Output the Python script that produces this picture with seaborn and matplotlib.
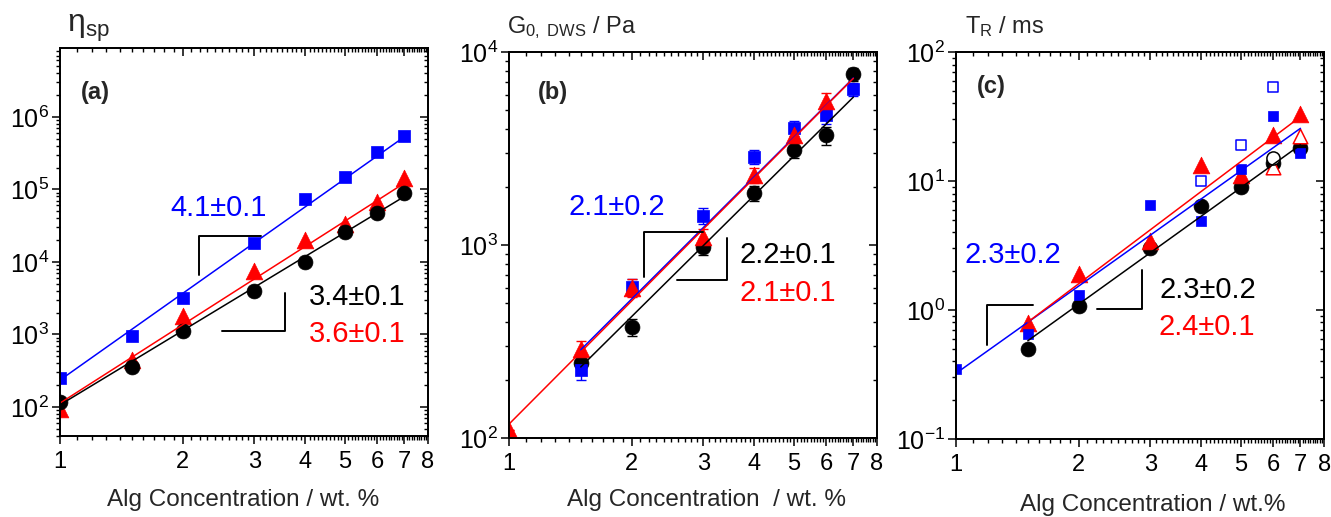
import numpy as np
import matplotlib
matplotlib.use("Agg")
import matplotlib.pyplot as plt
import seaborn as sns
from matplotlib.ticker import FixedLocator, FixedFormatter, NullFormatter, LogLocator

# ---------------- data ----------------
# (a) specific viscosity
conc_a = [1, 1.5, 2, 3, 4, 5, 6, 7]
eta_blue = [250, 940, 3150, 1.8e4, 7.3e4, 1.5e5, 3.3e5, 5.5e5]
eta_red = [95, 445, 1.8e3, 7.4e3, 2.0e4, 3.3e4, 6.6e4, 1.45e5]
eta_black = [118, 360, 1.13e3, 4.0e3, 1.0e4, 2.6e4, 4.8e4, 8.8e4]
fit_a_exp = [3.97, 3.59, 3.40]          # blue, red, black
fit_a_pref = [235, 113, 107]
fit_a_range = [[1, 7], [1, 7], [1, 7]]
slope_a = ["4.1\u00b10.1", "3.6\u00b10.1", "3.4\u00b10.1"]

# (b) plateau modulus from DWS
conc_b = [1.5, 2, 3, 4, 5, 6, 7]
G_black = [245, 376, 980, 1860, 3100, 3700, 7700]
G_black_err = [25, 40, 90, 170, 260, 400, 600]
G_blue = [225, 605, 1420, 2860, 4030, 4700, 6400]
G_blue_err = [25, 60, 130, 240, 380, 450, 500]
conc_b_red = [1, 1.5, 2, 3, 4, 5, 6]
G_red = [110, 290, 600, 1100, 2300, 3700, 5600]
G_red_err = [0, 30, 65, 110, 200, 330, 500]
fit_b_exp = [2.105, 2.12, 2.09]
fit_b_pref = [122, 118, 100]
fit_b_range = [[1.5, 7], [1, 7], [1.5, 7]]
slope_b = ["2.1\u00b10.2", "2.1\u00b10.1", "2.2\u00b10.1"]

# (c) relaxation time
conc_c_blue = [1, 1.5, 2, 3, 4, 5, 6, 7]
TR_blue = [0.35, 0.65, 1.3, 6.5, 4.9, 12.4, 32, 16.4]
conc_c = [1.5, 2, 3, 4, 5, 6, 7]
TR_red = [0.79, 1.9, 3.4, 13.2, 11.2, 22.8, 33]
TR_black = [0.5, 1.08, 3.0, 6.4, 9.0, 13.8, 17.9]
conc_c_open_blue = [4, 5, 6]
TR_blue_open = [10, 19, 54]
conc_c_open_red = [6, 7]
TR_red_open = [12.8, 22.4]
conc_c_open_black = [6]
TR_black_open = [15.2]
fit_c_exp = [2.247, 2.38, 2.27]
fit_c_pref = [0.323, 0.307, 0.23]
fit_c_range = [[1, 7], [1.5, 7], [1.5, 7]]
slope_c = ["2.3\u00b10.2", "2.4\u00b10.1", "2.3\u00b10.2"]

x_major = [1, 2, 3, 4, 5, 6, 7, 8]

BLUE = "#0000FF"
RED = "#FF0000"
BLACK = "#000000"
COLS = [BLUE, RED, BLACK]

# marker areas (points^2)
S_SQ, S_CI, S_TR = 75, 115, 145

# ---------------- style ----------------
sns.set_theme(style="ticks")
plt.rcParams["font.family"] = ["Liberation Sans", "DejaVu Sans"]
plt.rcParams["mathtext.fontset"] = "custom"
plt.rcParams["mathtext.rm"] = "Liberation Sans"
plt.rcParams["mathtext.it"] = "Liberation Sans:italic"
plt.rcParams["mathtext.bf"] = "Liberation Sans:bold"
plt.rcParams["axes.linewidth"] = 1.1
plt.rcParams["axes.edgecolor"] = "black"

fig = plt.figure(figsize=(13.31, 5.17), dpi=100)
ax_a = fig.add_axes([0.0451, 0.1567, 0.2765, 0.7505])
ax_b = fig.add_axes([0.3824, 0.1528, 0.2765, 0.7466])
ax_c = fig.add_axes([0.7183, 0.1509, 0.2765, 0.7485])

x_minor = [v / 10 for v in range(11, 80) if v % 10 != 0]


def style(ax, ylim):
    ax.set_xscale("log")
    ax.set_yscale("log")
    ax.set_xlim(1, 8)
    ax.set_ylim(*ylim)
    ax.xaxis.set_major_locator(FixedLocator(x_major))
    ax.xaxis.set_major_formatter(FixedFormatter([str(v) for v in x_major]))
    ax.xaxis.set_minor_locator(FixedLocator(x_minor))
    ax.xaxis.set_minor_formatter(NullFormatter())
    ax.yaxis.set_major_locator(LogLocator(base=10, numticks=20))
    ax.yaxis.set_minor_locator(LogLocator(base=10, subs=np.arange(2, 10), numticks=20))
    ax.yaxis.set_minor_formatter(NullFormatter())
    ax.tick_params(axis="both", which="major", direction="out", length=6,
                   width=1.1, color="black", labelcolor="black")
    ax.tick_params(axis="both", which="minor", direction="out", length=3,
                   width=1.0, color="black")
    ax.tick_params(axis="x", which="major", labelsize=17, pad=5)
    ax.tick_params(axis="y", which="major", labelsize=18, pad=2)
    ax.set_xlabel("")
    ax.set_ylabel("")
    for sp in ax.spines.values():
        sp.set_visible(True)
        sp.set_color("black")
        sp.set_linewidth(1.1)


def mirror(ax, ylim):
    tr = ax.twinx()
    tr.set_yscale("log")
    tr.set_ylim(*ylim)
    tr.yaxis.set_major_locator(LogLocator(base=10, numticks=20))
    tr.yaxis.set_minor_locator(LogLocator(base=10, subs=np.arange(2, 10), numticks=20))
    tr.yaxis.set_major_formatter(NullFormatter())
    tr.yaxis.set_minor_formatter(NullFormatter())
    tr.tick_params(axis="y", which="major", direction="in", length=6, width=1.1, color="black")
    tr.tick_params(axis="y", which="minor", direction="in", length=3, width=1.0, color="black")
    tt = ax.twiny()
    tt.set_xscale("log")
    tt.set_xlim(1, 8)
    tt.xaxis.set_major_locator(FixedLocator(x_major))
    tt.xaxis.set_minor_locator(FixedLocator(x_minor))
    tt.xaxis.set_major_formatter(NullFormatter())
    tt.xaxis.set_minor_formatter(NullFormatter())
    tt.tick_params(axis="x", which="major", direction="in", length=6, width=1.1, color="black")
    tt.tick_params(axis="x", which="minor", direction="in", length=3, width=1.0, color="black")
    for t in (tr, tt):
        for sp in t.spines.values():
            sp.set_color("black")
            sp.set_linewidth(1.1)


def fit_lines(ax, exps, prefs, ranges):
    for n, A, rng, col in zip(exps, prefs, ranges, COLS):
        xs = np.array(rng, dtype=float)
        ys = A * xs ** n
        sns.lineplot(x=xs, y=ys, color=col, lw=1.1, ax=ax, zorder=5,
                     estimator=None, sort=False)


def bracket(ax, pts):
    xs = [p[0] for p in pts]
    ys = [p[1] for p in pts]
    ax.plot(xs, ys, color="black", lw=1.4, transform=ax.transAxes, zorder=6)


def slope_texts(ax, texts, pos):
    for t, (fx, fy), col in zip(texts, pos, COLS):
        ax.text(fx, fy, t, color=col, fontsize=21, ha="center", va="center",
                transform=ax.transAxes)


def panel_label(ax, txt, fx, fy):
    ax.text(fx, fy, txt, fontsize=17, fontweight="bold", ha="center",
            va="center", transform=ax.transAxes)


# ---------------- (a) ----------------
ylim_a = (10 ** 1.6, 10 ** 6.95)
style(ax_a, ylim_a)
sns.scatterplot(x=conc_a, y=eta_red, marker="^", s=S_TR, color=RED, edgecolor=RED,
                linewidth=0.5, ax=ax_a, zorder=3)
sns.scatterplot(x=conc_a, y=eta_black, marker="o", s=S_CI, color=BLACK, edgecolor=BLACK,
                linewidth=0.5, ax=ax_a, zorder=3)
sns.scatterplot(x=conc_a, y=eta_blue, marker="s", s=S_SQ, color=BLUE, edgecolor=BLUE,
                linewidth=0.5, ax=ax_a, zorder=3)
fit_lines(ax_a, fit_a_exp, fit_a_pref, fit_a_range)
style(ax_a, ylim_a)
bracket(ax_a, [(0.546, 0.515), (0.378, 0.515), (0.378, 0.415)])
bracket(ax_a, [(0.611, 0.369), (0.611, 0.271), (0.44, 0.271)])
slope_texts(ax_a, slope_a, [(0.432, 0.588), (0.808, 0.263), (0.808, 0.358)])
panel_label(ax_a, "(a)", 0.095, 0.884)
mirror(ax_a, ylim_a)

# ---------------- (b) ----------------
ylim_b = (100, 1e4)
style(ax_b, ylim_b)
ax_b.errorbar(conc_b, G_black, yerr=G_black_err, fmt="none", ecolor=BLACK,
              elinewidth=1.0, capsize=3.5, capthick=1.0, zorder=2)
ax_b.errorbar(conc_b, G_blue, yerr=G_blue_err, fmt="none", ecolor=BLUE,
              elinewidth=1.0, capsize=3.5, capthick=1.0, zorder=2)
ax_b.errorbar(conc_b_red, G_red, yerr=G_red_err, fmt="none", ecolor=RED,
              elinewidth=1.0, capsize=3.5, capthick=1.0, zorder=2)
sns.scatterplot(x=conc_b, y=G_black, marker="o", s=S_CI, color=BLACK, edgecolor=BLACK,
                linewidth=0.5, ax=ax_b, zorder=3)
sns.scatterplot(x=conc_b, y=G_blue, marker="s", s=S_SQ, color=BLUE, edgecolor=BLUE,
                linewidth=0.5, ax=ax_b, zorder=3)
sns.scatterplot(x=conc_b_red, y=G_red, marker="^", s=S_TR, color=RED, edgecolor=RED,
                linewidth=0.5, ax=ax_b, zorder=3)
fit_lines(ax_b, fit_b_exp, fit_b_pref, fit_b_range)
style(ax_b, ylim_b)
bracket(ax_b, [(0.527, 0.534), (0.367, 0.534), (0.367, 0.417)])
bracket(ax_b, [(0.592, 0.518), (0.592, 0.409), (0.457, 0.409)])
slope_texts(ax_b, slope_b, [(0.293, 0.598), (0.758, 0.376), (0.758, 0.474)])
panel_label(ax_b, "(b)", 0.12, 0.896)
mirror(ax_b, ylim_b)

# ---------------- (c) ----------------
ylim_c = (0.1, 100)
style(ax_c, ylim_c)
sns.scatterplot(x=conc_c, y=TR_black, marker="o", s=S_CI, color=BLACK, edgecolor=BLACK,
                linewidth=0.5, ax=ax_c, zorder=3)
sns.scatterplot(x=conc_c, y=TR_red, marker="^", s=S_TR, color=RED, edgecolor=RED,
                linewidth=0.5, ax=ax_c, zorder=3)
sns.scatterplot(x=conc_c_blue, y=TR_blue, marker="s", s=60, color=BLUE, edgecolor=BLUE,
                linewidth=0.5, ax=ax_c, zorder=3)
sns.scatterplot(x=conc_c_open_blue, y=TR_blue_open, marker="s", s=50, color="white",
                edgecolor=BLUE, linewidth=1.1, ax=ax_c, zorder=3)
sns.scatterplot(x=conc_c_open_red, y=TR_red_open, marker="^", s=110, color="white",
                edgecolor=RED, linewidth=1.1, ax=ax_c, zorder=3)
sns.scatterplot(x=conc_c_open_black, y=TR_black_open, marker="o", s=90, color="white",
                edgecolor=BLACK, linewidth=1.1, ax=ax_c, zorder=3)
fit_lines(ax_c, fit_c_exp, fit_c_pref, fit_c_range)
style(ax_c, ylim_c)
bracket(ax_c, [(0.208, 0.346), (0.083, 0.346), (0.083, 0.243)])
bracket(ax_c, [(0.505, 0.437), (0.505, 0.336), (0.383, 0.336)])
slope_texts(ax_c, slope_c, [(0.155, 0.475), (0.68, 0.289), (0.685, 0.385)])
panel_label(ax_c, "(c)", 0.095, 0.91)
mirror(ax_c, ylim_c)

# ---------------- labels ----------------
fig.text(0.0503, 0.946, r"$\mathrm{\eta_{sp}}$", fontsize=23, ha="left", va="center")
fig.text(0.381, 0.946, r"G$_{\mathrm{0,\ DWS}}$ / Pa", fontsize=17, ha="left", va="center")
fig.text(0.725, 0.948, r"T$_{\mathrm{R}}$ / ms", fontsize=17, ha="left", va="center")
fig.text(0.1826, 0.033, "Alg Concentration / wt. %", fontsize=17.5, ha="center", va="center")
fig.text(0.531, 0.033, "Alg Concentration  / wt. %", fontsize=17.5, ha="center", va="center")
fig.text(0.866, 0.023, "Alg Concentration / wt.%", fontsize=17.5, ha="center", va="center")

fig.savefig("out.png", dpi=100, facecolor="white")
